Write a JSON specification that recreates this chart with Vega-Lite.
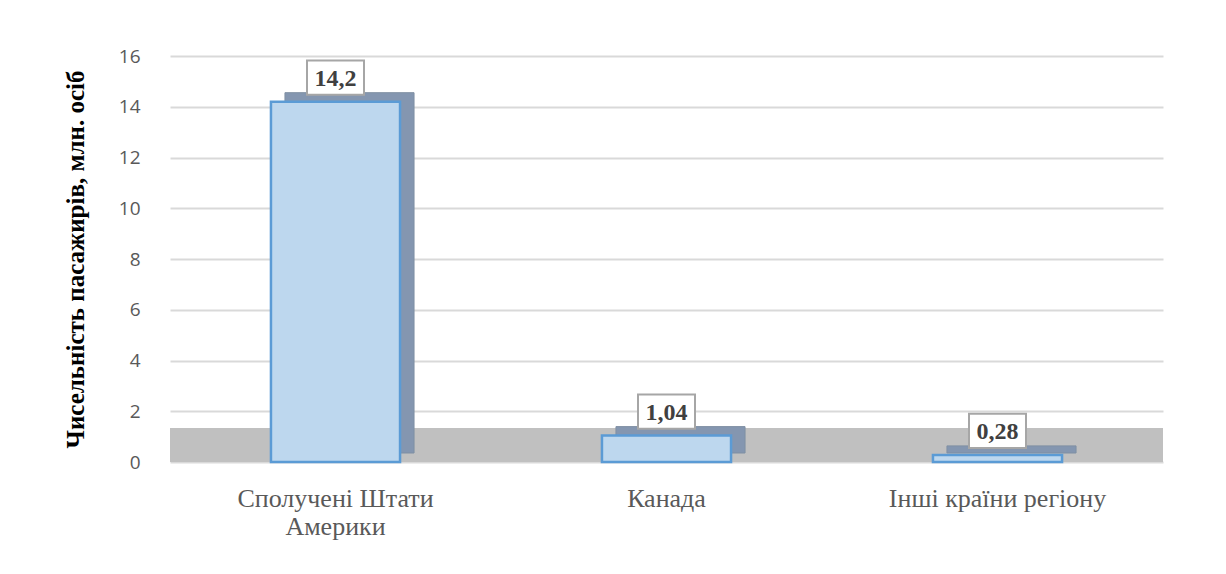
{
  "$schema": "https://vega.github.io/schema/vega-lite/v6.json",
  "autosize": {"type": "none"},
  "width": 993,
  "height": 406,
  "padding": {"left": 170, "top": 56, "right": 63, "bottom": 112},
  "background": "white",
  "config": {"view": {"stroke": null}},
  "data": {
    "values": [
      {"region": "Сполучені Штати Америки", "value": 14.2, "label": "14,2"},
      {"region": "Канада", "value": 1.04, "label": "1,04"},
      {"region": "Інші країни регіону", "value": 0.28, "label": "0,28"}
    ]
  },
  "encoding": {
    "x": {
      "field": "region",
      "type": "nominal",
      "sort": null,
      "scale": {"paddingInner": 0.61, "paddingOuter": 0.305},
      "axis": {
        "title": null,
        "domain": false,
        "ticks": false,
        "labelAngle": 0,
        "labelFont": "Liberation Serif",
        "labelFontSize": 26,
        "labelColor": "#595959",
        "labelPadding": 23,
        "labelLineHeight": 28,
        "labelLimit": 400,
        "labelExpr": "datum.label == 'Сполучені Штати Америки' ? ['Сполучені Штати', 'Америки'] : datum.label"
      }
    }
  },
  "layer": [
    {
      "mark": {"type": "rect", "color": "#c0c0c0"},
      "encoding": {
        "x": null,
        "y": {"datum": 0, "type": "quantitative", "scale": {"domain": [0, 16]}},
        "y2": {"datum": 1.34}
      }
    },
    {
      "mark": {"type": "bar", "color": "#8496b0", "xOffset": 14, "x2Offset": 14, "yOffset": -9, "y2Offset": -9, "stroke": "#7f8fa3", "strokeWidth": 1},
      "encoding": {
        "y": {
          "field": "value",
          "type": "quantitative",
          "scale": {"domain": [0, 16]},
          "axis": {
            "values": [0, 2, 4, 6, 8, 10, 12, 14, 16],
            "title": "Чисельність пасажирів, млн. осіб",
            "titleFont": "Liberation Serif",
            "titleFontSize": 25,
            "titleFontWeight": "bold",
            "titleColor": "#000000",
            "titlePadding": 30,
            "domain": false,
            "ticks": false,
            "labelFont": "Open Sans",
            "labelFontSize": 19,
            "labelColor": "#595959",
            "labelPadding": 30,
            "grid": true,
            "gridColor": "#d9d9d9",
            "gridWidth": 2
          }
        }
      }
    },
    {
      "mark": {"type": "bar", "fill": "#bdd7ee", "stroke": "#5b9bd5", "strokeWidth": 2.5},
      "encoding": {
        "y": {"field": "value", "type": "quantitative"}
      }
    },
    {
      "mark": {
        "type": "point",
        "shape": "M-1,-0.6L1,-0.6L1,0.6L-1,0.6Z",
        "size": 3249,
        "filled": true,
        "fill": "white",
        "stroke": "#a6a6a6",
        "strokeWidth": 2,
        "opacity": 1,
        "yOffset": -24
      },
      "encoding": {
        "y": {"field": "value", "type": "quantitative"}
      }
    },
    {
      "mark": {
        "type": "text",
        "font": "Liberation Serif",
        "fontSize": 24,
        "fontWeight": "bold",
        "color": "#404040",
        "baseline": "middle",
        "align": "center",
        "yOffset": -23
      },
      "encoding": {
        "y": {"field": "value", "type": "quantitative"},
        "text": {"field": "label"}
      }
    }
  ]
}
